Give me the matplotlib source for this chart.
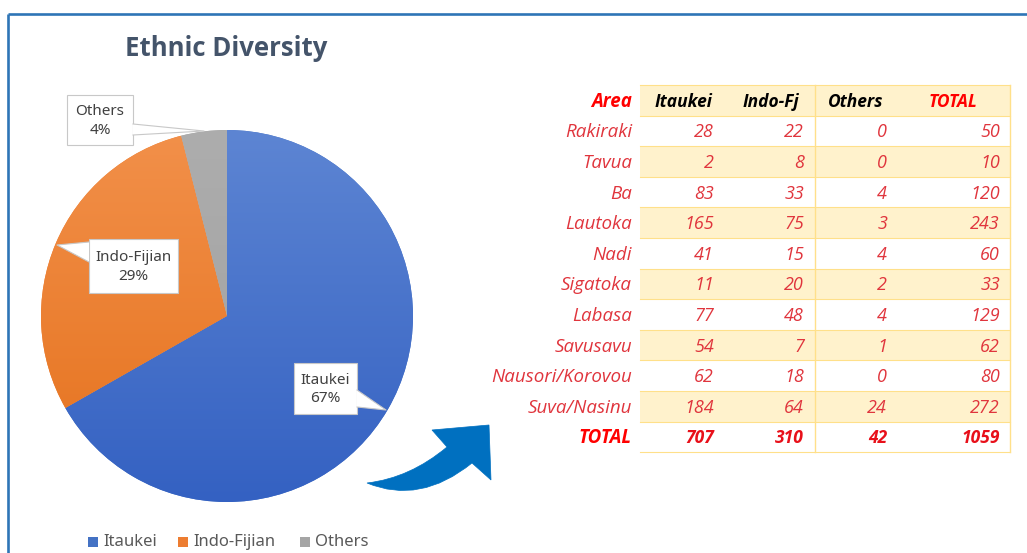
import matplotlib
matplotlib.use("Agg")
import matplotlib.pyplot as plt
import numpy as np
from matplotlib.patches import Rectangle, PathPatch, Polygon
from matplotlib.path import Path
from matplotlib.colors import LinearSegmentedColormap

# ---------------- data ----------------
groups = ["Itaukei", "Indo-Fijian", "Others"]
group_totals = [707, 310, 42]
group_colors = ["#4472C4", "#ED7D31", "#A5A5A5"]
grad_top = ["#5D85D3", "#F2904A", "#ADADAD"]
grad_bottom = ["#3461C2", "#E5711C", "#A0A0A0"]

areas = ["Rakiraki", "Tavua", "Ba", "Lautoka", "Nadi", "Sigatoka", "Labasa",
         "Savusavu", "Nausori/Korovou", "Suva/Nasinu"]
itaukei = [28, 2, 83, 165, 41, 11, 77, 54, 62, 184]
indo_fj = [22, 8, 33, 75, 15, 20, 48, 7, 18, 64]
others = [0, 0, 4, 3, 4, 2, 4, 1, 0, 24]
totals = [50, 10, 120, 243, 60, 33, 129, 62, 80, 272]
col_headers = ["Itaukei", "Indo-Fj", "Others", "TOTAL"]
grand_totals = [707, 310, 42, 1059]

W, H = 1027, 553
fig = plt.figure(figsize=(W / 100, H / 100), dpi=100)
fig.patch.set_facecolor("white")

# ---------------- pie ----------------
cx, cy, r = 227, 316, 186
pax = fig.add_axes([(cx - r) / W, (H - cy - r) / H, 2 * r / W, 2 * r / H])
pax.set_zorder(0)
wedges, _ = pax.pie(group_totals, colors=group_colors, startangle=90,
                    counterclock=False, radius=1.0,
                    wedgeprops=dict(linewidth=0))
grad = np.linspace(0, 1, 256).reshape(-1, 1)
for w, ct, cb in zip(wedges, grad_top, grad_bottom):
    cmap = LinearSegmentedColormap.from_list("g", [ct, cb])
    im = pax.imshow(grad, cmap=cmap, extent=[-1, 1, -1, 1], origin="upper",
                    aspect="auto", zorder=w.get_zorder() + 0.1, interpolation="bilinear")
    im.set_clip_path(w)
pax.set_xlim(-1, 1)
pax.set_ylim(-1, 1)
pax.set_aspect("equal")
pax.axis("off")

# overlay pixel axes (on top of the pie)
bg = fig.add_axes([0, 0, 1, 1])
bg.set_zorder(1)
bg.patch.set_alpha(0)
bg.set_xlim(0, W)
bg.set_ylim(H, 0)
bg.axis("off")

# border
bg.plot([8, 8], [H, 14], color="#2E75B6", lw=1.9, solid_capstyle="butt")
bg.plot([8, W], [14, 14], color="#2E75B6", lw=1.9, solid_capstyle="butt")

# title
bg.text(226, 49, "Ethnic Diversity", ha="center", va="center", fontsize=18.5,
        fontweight="bold", color="#44546A", family="Open Sans")

total_all = sum(group_totals)
pcts = [round(v / total_all * 100) for v in group_totals]

# callouts (pixel-space boxes with wedge pointers)
callouts = {
    "Itaukei": dict(box=(294, 363, 357, 414), base=((357, 390), (357, 407)), tip=(386, 410)),
    "Indo-Fijian": dict(box=(89, 239, 178, 293), base=((89, 242), (89, 262)), tip=(57, 245)),
    "Others": dict(box=(67, 95, 133, 145), base=((133, 124), (133, 135)), tip=(204, 131)),
}
edge = "#C8C8C8"
for g, p in zip(groups, pcts):
    c = callouts[g]
    x0b, y0b, x1b, y1b = c["box"]
    bg.add_patch(Rectangle((x0b, y0b), x1b - x0b, y1b - y0b, fc="white", ec=edge,
                           lw=0.8, zorder=5))
    (ax_, ay_), (bx_, by_) = c["base"]
    tx, ty = c["tip"]
    bg.add_patch(Polygon([(ax_, ay_), (tx, ty), (bx_, by_)], closed=True, fc="white",
                         ec="none", zorder=6))
    bg.plot([ax_, tx, bx_], [ay_, ty, by_], color=edge, lw=0.8, zorder=6)
    bg.text((x0b + x1b) / 2, (y0b + y1b) / 2 + 1, f"{g}\n{p}%", ha="center", va="center",
            fontsize=11, color="#404040", family="Noto Sans", linespacing=1.3,
            zorder=7)

# ---------------- curved arrow ----------------
verts = [(367, 483), (410, 478), (447, 447), (432, 430), (489, 425), (491, 480),
         (472, 463), (420, 505), (367, 483), (367, 483)]
codes = [Path.MOVETO, Path.CURVE3, Path.CURVE3, Path.LINETO, Path.LINETO, Path.LINETO,
         Path.LINETO, Path.CURVE3, Path.CURVE3, Path.CLOSEPOLY]
bg.add_patch(PathPatch(Path(verts, codes), fc="#0070C0", ec="#0070C0", lw=0.5))

# ---------------- table ----------------
top, rh = 85, 30.6
x0, x1, xv = 640, 1010, 815
fill = "#FFF2CC"
line = "#FFE08A"
nrows = len(areas) + 2
for i in range(nrows):
    y = top + i * rh
    if i % 2 == 0 and i < nrows - 1:
        bg.add_patch(Rectangle((x0, y), x1 - x0, rh, fc=fill, ec="none", zorder=1))
for i in range(nrows + 1):
    y = top + i * rh
    bg.plot([x0, x1], [y, y], color=line, lw=0.8, zorder=2)
bg.plot([xv, xv], [top, top + nrows * rh], color=line, lw=1.0, zorder=2)
bg.plot([x1, x1], [top, top + nrows * rh], color=line, lw=1.0, zorder=2)

tfont = "Open Sans"
val_color = "#E0353D"
red = "#FF0000"
fs = 13.5
hdr_centers = [683, 771, 856, 953]
val_right = [714, 804, 887, 1000]


def yc(i):
    return top + (i + 0.5) * rh + 1.5


bg.text(632, yc(0), "Area", ha="right", va="center", fontsize=13.5, color=red,
        fontstyle="italic", fontweight="bold", family=tfont, zorder=3)
for j, h in enumerate(col_headers):
    bg.text(hdr_centers[j], yc(0), h, ha="center", va="center", fontsize=12.5,
            color=red if h == "TOTAL" else "black", fontstyle="italic",
            fontweight="bold", family=tfont, zorder=3)

for k, a in enumerate(areas):
    i = k + 1
    bg.text(632, yc(i), a, ha="right", va="center", fontsize=fs, color=val_color,
            fontstyle="italic", family=tfont, zorder=3)
    for j, v in enumerate([itaukei[k], indo_fj[k], others[k], totals[k]]):
        bg.text(val_right[j], yc(i), str(v), ha="right", va="center", fontsize=13,
                color=val_color, fontstyle="italic", family=tfont, zorder=3)

i = nrows - 1
bg.text(632, yc(i), "TOTAL", ha="right", va="center", fontsize=13.5, color=red,
        fontstyle="italic", fontweight="bold", family=tfont, zorder=3)
for j, v in enumerate(grand_totals):
    bg.text(val_right[j], yc(i), str(v), ha="right", va="center", fontsize=12.5,
            color="#E8101A", fontstyle="italic", fontweight="bold", family=tfont, zorder=3)

# ---------------- legend ----------------
leg_x = [88, 178, 300]
for x, g, c in zip(leg_x, groups, group_colors):
    bg.add_patch(Rectangle((x, 537), 10, 10, fc=c, ec="none"))
    bg.text(x + 15, 542, g, ha="left", va="center", fontsize=12, color="#595959",
            family="Noto Sans")

fig.savefig("out.png", dpi=100, facecolor="white")
